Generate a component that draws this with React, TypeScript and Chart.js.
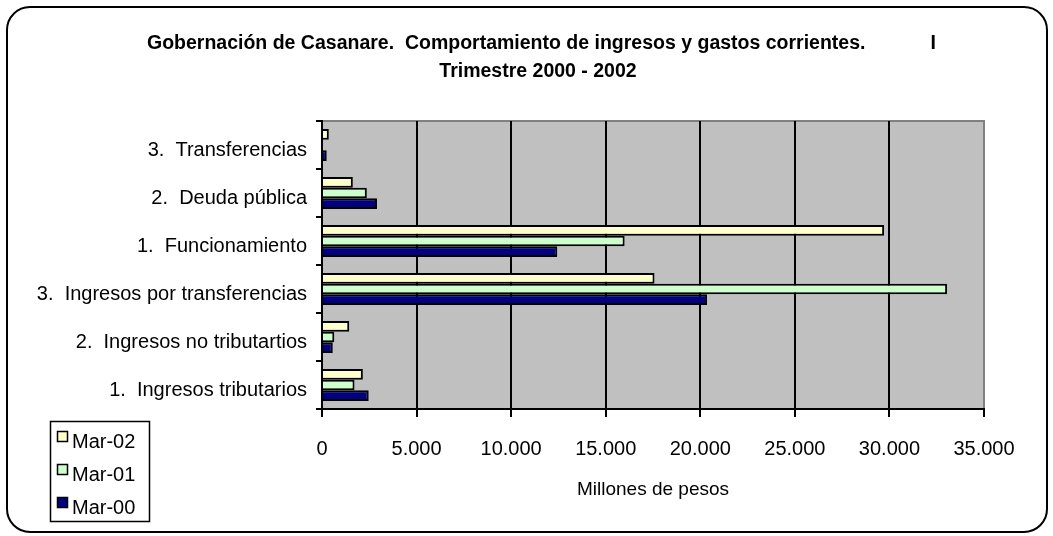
import React, { useEffect, useRef } from "react";
import { Chart, registerables } from "chart.js";

Chart.register(...registerables);

const categories = [
  "3.  Transferencias",
  "2.  Deuda pública",
  "1.  Funcionamiento",
  "3.  Ingresos por transferencias",
  "2.  Ingresos no tributartios",
  "1.  Ingresos tributarios",
];
const seriesNames = ["Mar-02", "Mar-01", "Mar-00"];
const mar02 = [360, 1630, 29720, 17580, 1440, 2160];
const mar01 = [40, 2370, 16000, 33050, 650, 1720];
const mar00 = [250, 2910, 12440, 20360, 570, 2470];
const xTicks = [0, 5000, 10000, 15000, 20000, 25000, 30000, 35000];
const titleLines = [
  "Gobernación de Casanare.  Comportamiento de ingresos y gastos corrientes.            I",
  "Trimestre 2000 - 2002",
];
const xTitle = "Millones de pesos";

const FONT = "'Liberation Sans', Arial, sans-serif";
const colors = ["#FFFFCC", "#CCFFCC", "#000080"];

const fmt = (v: number) =>
  String(v).replace(/\B(?=(\d{3})+(?!\d))/g, ".");

const bgPlugin = {
  id: "plotBg",
  beforeDraw(chart: any) {
    const { ctx, chartArea: a } = chart;
    ctx.save();
    ctx.fillStyle = "#C0C0C0";
    ctx.fillRect(a.left, a.top, a.right - a.left, a.bottom - a.top);
    ctx.strokeStyle = "#808080";
    ctx.lineWidth = 2;
    ctx.beginPath();
    ctx.moveTo(a.left, a.top);
    ctx.lineTo(a.right, a.top);
    ctx.lineTo(a.right, a.bottom);
    ctx.stroke();
    ctx.restore();
  },
};

const titlePlugin = {
  id: "customTitle",
  afterDraw(chart: any) {
    const ctx = chart.ctx;
    ctx.save();
    ctx.fillStyle = "#000";
    ctx.font = `bold 19.5px ${FONT}`;
    ctx.textBaseline = "middle";
    ctx.textAlign = "left";
    ctx.fillText(titleLines[0], 147, 44);
    ctx.textAlign = "center";
    ctx.fillText(titleLines[1], 538, 72);
    ctx.restore();
  },
};

const legendPlugin = {
  id: "customLegend",
  afterDraw(chart: any) {
    const ctx = chart.ctx;
    ctx.save();
    ctx.strokeStyle = "#000";
    ctx.lineWidth = 1.5;
    ctx.strokeRect(50.5, 421.5, 99, 100);
    ctx.font = `20px ${FONT}`;
    ctx.textBaseline = "middle";
    ctx.textAlign = "left";
    chart.data.datasets.forEach((ds: any, i: number) => {
      const y = 431 + i * 33;
      ctx.fillStyle = ds.backgroundColor;
      ctx.fillRect(57.5, y + 0.5, 10, 10);
      ctx.lineWidth = 1.5;
      ctx.strokeStyle = "#000";
      ctx.strokeRect(57.5, y + 0.5, 10, 10);
      ctx.fillStyle = "#000";
      ctx.fillText(ds.label, 72, y + 11);
    });
    ctx.restore();
  },
};

export default function App() {
  const ref = useRef<HTMLCanvasElement>(null);
  useEffect(() => {
    if (!ref.current) return;
    const values = [mar02, mar01, mar00];
    const chart = new Chart(ref.current, {
      type: "bar",
      data: {
        labels: categories,
        datasets: seriesNames.map((name, i) => ({
          label: name,
          data: values[i],
          backgroundColor: colors[i],
          borderColor: "#000",
          borderWidth: 2,
          barPercentage: 1,
          categoryPercentage: 0.67,
        })),
      },
      options: {
        responsive: false,
        animation: false,
        indexAxis: "y",
        layout: { padding: { top: 121, right: 69, bottom: 0, left: 0 } },
        plugins: {
          legend: { display: false },
          title: { display: false },
          tooltip: { enabled: false },
        },
        scales: {
          y: {
            type: "category",
            grid: {
              drawOnChartArea: false,
              drawTicks: true,
              tickLength: 6,
              color: "#000",
              lineWidth: 2,
              offset: true,
            },
            border: { color: "#000", width: 2 },
            ticks: {
              color: "#000",
              font: { family: FONT, size: 20 },
              padding: 9,
              labelOffset: 5,
            },
            afterFit: (s: any) => {
              s.width = 322;
            },
          },
          x: {
            type: "linear",
            min: 0,
            max: 35000,
            afterBuildTicks: (s: any) => {
              s.ticks = xTicks.map((v) => ({ value: v }));
            },
            ticks: {
              color: "#000",
              font: { family: FONT, size: 20 },
              padding: 20,
              callback: (v: any) => fmt(Number(v)),
            },
            grid: {
              color: (c: any) =>
                c.tick && c.tick.value === 35000 ? "rgba(0,0,0,0)" : "#000",
              tickColor: "#000",
              lineWidth: 2,
              tickLength: 8,
            },
            border: { color: "#000", width: 2 },
            title: {
              display: true,
              text: xTitle,
              color: "#000",
              font: { family: FONT, size: 19 },
              padding: { top: 0, bottom: 35 },
            },
            afterFit: (s: any) => {
              s.height = 127;
            },
          },
        },
      },
      plugins: [bgPlugin, titlePlugin, legendPlugin],
    } as any);
    return () => chart.destroy();
  }, []);

  return (
    <div style={{ position: "fixed", left: 0, top: 0, width: 1053, height: 536, background: "#fff" }}>
      <div
        style={{
          position: "absolute",
          left: 6,
          top: 6,
          width: 1042,
          height: 527,
          boxSizing: "border-box",
          border: "2px solid #000",
          borderRadius: 24,
        }}
      />
      <canvas
        ref={ref}
        width={1053}
        height={536}
        style={{ position: "absolute", left: 0, top: 0, width: 1053, height: 536 }}
      />
    </div>
  );
}
